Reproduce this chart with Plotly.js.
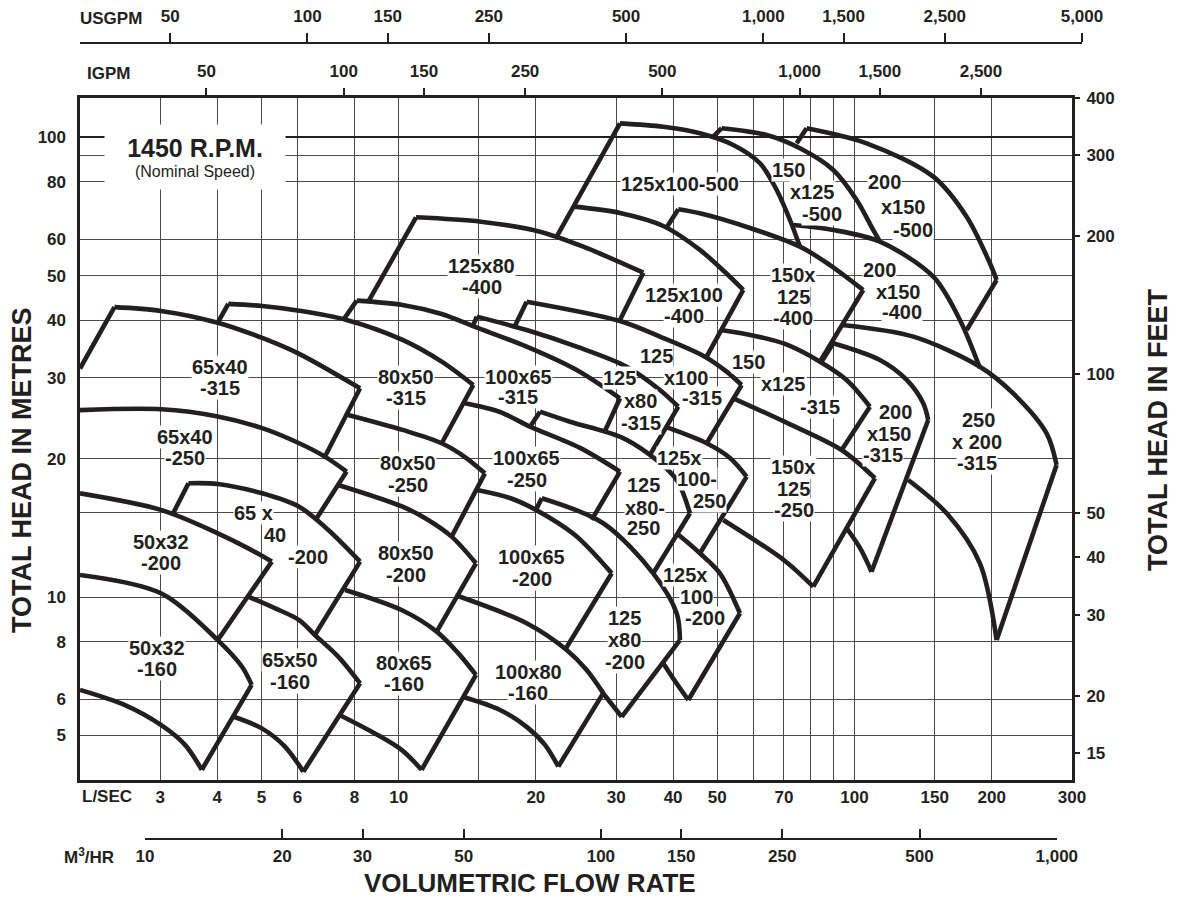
<!DOCTYPE html>
<html><head><meta charset="utf-8">
<script src="https://cdn.plot.ly/plotly-3.0.1.min.js"></script>
<style>body{margin:0;background:#fff}#chart{width:1178px;height:900px}</style>
</head><body><div id="chart"></div>
<script>
// ---------- axis data ----------
const flowRangeLs = [2, 300];          // L/sec
const headRangeM = [4, 122];           // metres
const lsTicks = [3,4,5,6,8,10,15,20,30,40,50,60,70,80,90,100,150,200,300];
const lsTickText = ['3','4','5','6','8','10','','20','30','40','50','','70','','','100','150','200','300'];
const mTicks = [5,6,8,10,15.24,20,30,40,50,60,80,91.44,100];
const mTickText = ['5','6','8','10','','20','30','40','50','60','80','','100'];
const ftTicks = [15,20,30,40,50,100,200,300,400];
const usgpmTicks = [50,100,150,250,500,1000,1500,2500,5000];
const usgpmText = ['50','100','150','250','500','1,000','1,500','2,500','5,000'];
const igpmTicks = [50,100,150,250,500,1000,1500,2500];
const igpmText = ['50','100','150','250','500','1,000','1,500','2,500'];
const m3hTicks = [10,20,30,50,100,150,250,500,1000];
const m3hText = ['10','20','30','50','100','150','250','500','1,000'];
const LS_TO_USGPM = 15.850, LS_TO_IGPM = 13.198, LS_TO_M3H = 3.6, M_TO_FT = 1/0.3048;

// ---------- pump tiles: flow (L/s), head (m) ----------
// base: lower end of left side, top: head curve, foot: lower end of right side, bottom: lower curve
const p50x32_160 = {top:[[2,11.17],[3.01,10.19],[4.01,8.06],[4.53,7.06],[4.76,6.44]], foot:[3.70,4.21], bottom:[[3.40,4.77],[3.01,5.27],[2.51,5.82],[2,6.28]]};
const p50x32_200 = {top:[[2,16.81],[3.01,15.47],[4.01,13.76],[4.68,12.76],[5.27,11.94]], foot:[4.01,8.06]};
const p65x40_250 = {top:[[2,25.5],[3.01,25.6],[4.01,24.7],[5.02,23.3],[6.05,21.6],[6.89,20.2],[7.69,18.74]], foot:[6.61,14.84]};
const p65x40_315 = {base:[2,31.4], top:[[2.38,42.7],[3.01,41.9],[4.01,39.5],[5.02,36.6],[6.05,33.8],[8.23,28.44]], foot:[6.92,20.37]};
const p65x40_200 = {base:[3.20,15.2], top:[[3.46,17.68],[4.01,17.62],[5.02,16.81],[6.05,15.72],[7.01,13.99],[8.23,11.94]], foot:[6.55,8.27]};
const p65x50_160 = {top:[[4.68,10.02],[5.36,9.45],[6.05,8.91],[6.55,8.27],[7.37,7.42],[8.23,6.49]], foot:[6.18,4.17], bottom:[[5.63,4.73],[5.01,5.18],[4.35,5.49]]};
const p80x50_315 = {base:[4.01,39.5], top:[[4.23,43.4],[5.02,42.95],[6.05,41.95],[7.69,40.05],[10.2,36.24],[12.43,32.5],[14.58,28.92]], foot:[12.43,21.6]};
const p80x50_250 = {top:[[7.75,24.89],[10.2,23.09],[12.43,21.6],[13.98,20.16],[15.46,18.58]], foot:[13.07,13.53]};
const p80x50_200 = {top:[[7.37,17.53],[10.2,15.72],[11.61,14.71],[13.07,13.53],[14.78,11.84]], foot:[12.12,8.41]};
const p80x65_160 = {top:[[7.63,10.36],[10.15,9.37],[12.12,8.41],[13.51,7.55],[14.78,6.77]], foot:[11.23,4.21], bottom:[[10.15,4.65],[8.87,5.05],[7.42,5.54]]};
const p100x65_315 = {base:[7.56,40.05], top:[[8.09,44.12],[10.2,43.17],[12.43,41.26],[14.71,38.67],[19.09,35.04],[24.58,31.17],[30.59,27.05]], foot:[28.35,22.96]};
const p100x65_250 = {top:[[13.98,26.38],[16.69,25.26],[19.42,23.47],[24.99,21.10],[30.59,18.74]], foot:[26.51,14.71]};
const p100x65_200 = {top:[[14.86,17.09],[17.55,16.42],[20.01,15.47],[24.37,13.64],[29.34,11.26]], foot:[23.17,7.67]};
const p100x80_160 = {top:[[13.49,10.05],[19.09,8.77],[23.37,7.67],[25.85,6.94],[28.11,6.18]], foot:[22.40,4.28], bottom:[[20.94,4.77],[19.09,5.22],[16.69,5.68],[13.87,6.06]]};
const p125x80_400 = {base:[8.58,43.89], top:[[10.92,66.96],[15.16,65.5],[20.42,62.31],[25.41,57.8],[34.41,50.75]], foot:[30.59,40.05]};
const p125x80_315 = {base:[14.55,38.87], top:[[14.84,40.72],[19.09,38.08],[24.58,35.04],[31.64,31.69],[37.43,28.20],[41.06,25.94]], foot:[35.59,20.37]};
const p125x100_315 = {base:[18.0,38.9], top:[[19.09,43.89],[30.59,39.84],[37.43,36.84],[46.97,33.32],[52.42,30.91],[56.54,28.92]], foot:[47.39,21.60]};
const p125x80_250 = {base:[19.42,23.47], top:[[20.42,25.30],[23.76,24.06],[30.59,22.32],[35.59,20.37],[40.73,17.97],[43.55,15.21]], foot:[36.18,11.26]};
const p125x100_250 = {top:[[38.39,23.47],[47.39,21.6],[53.32,20.06],[58.0,18.27]], foot:[45.81,12.45]};
const p125x80_200 = {base:[20.01,15.47], top:[[20.6,16.40],[28.11,14.47],[36.18,11.26],[40.73,9.22],[41.41,8.06]], foot:[30.85,5.49], bottom:[[28.0,6.2]]};
const p125x100_200 = {top:[[40.73,13.76],[45.81,12.45],[50.68,11.26],[56.07,9.22]], foot:[43.19,5.97], bottom:[[40.48,6.54],[38.07,7.18]]};
const p125x100_500 = {base:[22.22,60.77], top:[[30.59,107.2],[38.07,105.4],[45.81,102.0],[54.21,96.2],[62.03,87.77],[67.5,76.78],[72.19,66.06],[75.92,57.8]]};
const p125x100_400 = {top:[[24.25,70.63],[30.59,68.43],[38.07,64.11],[45.81,56.86],[51.97,50.91],[57.02,46.54]], foot:[47.39,33.32]};
const p150x125_500 = {base:[49.0,100.3], top:[[51.12,104.6],[64.17,101.1],[75.92,94.6],[89.82,84.88],[101.1,73.04],[109.9,62.84],[113.7,59.27]]};
const p150x125_400 = {base:[38.72,63.6], top:[[41.06,69.72],[45.81,68.32],[58.97,63.48],[75.92,57.8],[88.32,52.72],[104.5,46.54]], foot:[84.0,32.5]};
const p200x150_500 = {base:[74.67,97.0], top:[[78.52,104.6],[106.3,97.0],[148.9,82.07],[176.2,67.15],[198.2,53.19],[205.0,48.92]], foot:[176.2,38.08]};
const p200x150_400 = {top:[[73.39,64.43],[89.82,62.84],[113.7,59.27],[148.9,49.73],[170.3,40.05],[188.4,31.48]]};
const p150x125_315 = {top:[[50.93,38.08],[60.48,36.97],[70.39,35.51],[84.0,32.5],[96.1,29.65],[108.1,25.94]], foot:[93.72,20.88]};
const p150x125_250 = {top:[[54.21,27.05],[70.39,24.03],[93.72,20.88],[110.9,18.13]], foot:[81.2,10.53], bottom:[[70.39,11.98],[51.53,14.71]]};
const p200x150_315 = {base:[84.71,32.5], top:[[89.82,35.64],[113.7,32.77],[130.2,29.65],[141.5,26.38],[145.1,24.27]], foot:[109.0,11.35], bottom:[[102.8,12.79],[96.1,14.11]]};
const p250x200_315 = {top:[[93.72,39.05],[134.6,36.84],[188.4,31.69],[222.9,27.73],[263.9,22.70],[277.5,19.38]], foot:[205.0,8.06], bottom:[[188.4,11.84],[159.3,15.21],[131.2,17.97]]};

const pumps = [p50x32_160,p50x32_200,p65x40_250,p65x40_315,p65x40_200,p65x50_160,p80x50_315,p80x50_250,p80x50_200,p80x65_160,
  p100x65_315,p100x65_250,p100x65_200,p100x80_160,p125x80_400,p125x80_315,p125x100_315,p125x80_250,p125x100_250,p125x80_200,
  p125x100_200,p125x100_500,p125x100_400,p150x125_500,p150x125_400,p200x150_500,p200x150_400,p150x125_315,p150x125_250,
  p200x150_315,p250x200_315];

// ---------- tile labels: text, flow (L/s), head (m) ----------
const labelLines = [
 ['125x100-500',41.4,79.0],
 ['150',71.6,84.88],['x125',80.96,76.1],['-500',84.71,68.08],
 ['200',116.2,80.06],['x150',127.9,70.63],['-500',134.2,62.84],
 ['125x80',15.22,52.55],['-400',15.22,47.18],
 ['125x100',42.26,45.39],['-400',42.26,40.85],
 ['150x',73.39,50.17],['125',73.39,45.0],['-400',73.39,40.45],
 ['200',113.7,51.4],['x150',124.7,46.13],['-400',127.1,41.74],
 ['65x40',4.06,31.6],['-315',4.06,28.44],
 ['80x50',10.38,30.05],['-315',10.38,27.05],
 ['100x65',18.3,30.14],['-315',18.3,27.19],
 ['125',30.59,29.9],['x80',34.0,26.73],['-315',34.0,23.94],
 ['125',36.81,33.44],['x100',42.84,29.99],['-315',46.2,27.05],
 ['150',58.4,32.45],['x125',70.0,29.06],['-315',84.0,25.94],
 ['200',122.7,25.29],['x150',119.6,22.62],['-315',115.6,20.37],
 ['250',186.8,24.27],['x 200',185.2,21.7],['-315',185.2,19.54],
 ['65x40',3.40,22.32],['-250',3.40,20.03],
 ['80x50',10.5,19.54],['-250',10.5,17.53],
 ['100x65',19.09,20.03],['-250',19.09,17.97],
 ['125',34.41,17.53],['x80-',34.7,15.6],['250',34.41,14.11],
 ['125x',41.41,20.03],['100-',45.06,18.06],['250',48.19,16.17],
 ['150x',73.66,19.18],['125',73.66,17.18],['-250',73.66,15.43],
 ['50x32',3.01,13.19],['-200',3.01,11.84],
 ['65 x',4.80,15.26],['40',5.36,13.64],['-200',6.34,12.24],
 ['80x50',10.38,12.45],['-200',10.38,11.17],
 ['100x65',19.58,12.24],['-200',19.58,10.94],
 ['125',31.37,8.99],['x80',31.37,8.06],['-200',31.37,7.23],
 ['125x',42.48,11.17],['100',45.06,10.02],['-200',46.97,8.99],
 ['50x32',2.95,7.73],['-160',2.95,6.96],
 ['65x50',5.78,7.29],['-160',5.78,6.55],
 ['80x65',10.3,7.18],['-160',10.3,6.46],
 ['100x80',19.25,6.88],['-160',19.25,6.18]
];
const speedNote = ['1450 R.P.M.', '(Nominal Speed)', 3.575, 90.35];

// ---------- layout geometry ----------
const F = 'Liberation Sans, Arial, Helvetica, sans-serif';
const INK = '#231f20';
const W = 1178, H = 900;
const M = {l:80, r:88, t:44, b:62};
const plotPx = {x0:80, x1:1072, y0:97.5, y1:780};
const pw = W - M.l - M.r, ph = H - M.t - M.b;
const lg = Math.log10;
const xr = [lg(flowRangeLs[0]), lg(flowRangeLs[1])];
const yr = [lg(headRangeM[0]), lg(headRangeM[1])];
const xDom = [(plotPx.x0 - M.l)/pw, (plotPx.x1 - M.l)/pw];
const yDom = [(H - M.b - plotPx.y1)/ph, (H - M.b - plotPx.y0)/ph];
const pxPerDec = (plotPx.x1 - plotPx.x0)/(xr[1]-xr[0]);
const lsToDom = q => (plotPx.x0 - M.l + (lg(q) - xr[0])*pxPerDec)/pw;
const usMax = 5005;
const m3Lo = 9.99, m3Hi = 1001;
const px = (x, y) => ({x:(x - M.l)/pw, y:(H - M.b - y)/ph});

const tickFont = {family:F, size:17, color:INK, weight:'bold'};

// ---------- traces ----------
const traces = [];
const lineStyle = {color:INK, width:4.6};
function seg(pts, smooth){
  traces.push({type:'scatter', mode:'lines', x:pts.map(p=>p[0]), y:pts.map(p=>p[1]),
    xaxis:'x', yaxis:'y', line:Object.assign({}, lineStyle, smooth ? {shape:'spline', smoothing:0.9} : {}),
    hoverinfo:'skip', showlegend:false});
}
pumps.forEach(p => {
  const first = p.top[0], last = p.top[p.top.length-1];
  if (p.base) seg([p.base, first], false);
  seg(p.top, true);
  if (p.foot) seg([last, p.foot], false);
  if (p.bottom) seg([p.foot].concat(p.bottom), true);
});
// helper traces so the extra scales are drawn
const ghost = (xa, ya) => ({type:'scatter', mode:'lines', x:[null], y:[null], xaxis:xa, yaxis:ya, hoverinfo:'skip', showlegend:false});
traces.push(ghost('x2','y'), ghost('x','y2'), ghost('x3','y3'), ghost('x4','y4'), ghost('x','y5'));

// ---------- annotations ----------
const ann = [];
labelLines.forEach(([t,q,h]) => ann.push({x:lg(q), y:lg(h), xref:'x', yref:'y', text:t, showarrow:false,
  xanchor:'center', yanchor:'middle',
  font:{family:F, size:20, color:INK, weight:'bold'}, bgcolor:'#fff', borderpad:0}));
ann.push({x:lg(speedNote[2]), y:lg(speedNote[3]), xref:'x', yref:'y', showarrow:false, xanchor:'center', yanchor:'middle',
  text:'<b><span style="font-size:25px">'+speedNote[0]+'</span></b><br>'+speedNote[1],
  font:{family:F, size:16, color:INK}, bgcolor:'#fff', width:176, height:60, borderpad:2});
function paperText(text, x, y, opts){
  const p = px(x, y);
  ann.push(Object.assign({x:p.x, y:p.y, xref:'paper', yref:'paper', text, showarrow:false,
    xanchor:'center', yanchor:'middle',
    font:{family:F, size:17, color:INK, weight:'bold'}}, opts||{}));
}
paperText('USGPM', 78, 18, {xanchor:'left'});
paperText('IGPM', 85, 73, {xanchor:'left'});
paperText('L/SEC', 80, 796, {xanchor:'left'});
paperText('M<sup>3</sup>/HR', 62, 856, {xanchor:'left'});
paperText('VOLUMETRIC FLOW RATE', 530, 883, {font:{family:F, size:26, color:INK, weight:'bold'}});
paperText('TOTAL HEAD IN METRES', 22, 470, {textangle:-90, font:{family:F, size:27, color:INK, weight:'bold'}});
paperText('TOTAL HEAD IN FEET', 1158, 430, {textangle:-90, font:{family:F, size:27, color:INK, weight:'bold'}});

// ---------- layout ----------
const layout = {
  width:W, height:H, margin:M, paper_bgcolor:'#fff', plot_bgcolor:'rgba(0,0,0,0)',
  font:{family:F, color:INK}, showlegend:false,
  xaxis:{type:'log', range:xr, domain:xDom, anchor:'y', showline:true, linewidth:2.6, linecolor:INK, mirror:true,
    showgrid:true, gridcolor:'#4a4a4a', gridwidth:1, tickmode:'array', tickvals:lsTicks, ticktext:lsTickText,
    ticks:'', ticklabelstandoff:0, tickfont:tickFont, zeroline:false, fixedrange:true},
  yaxis:{type:'log', range:yr, domain:yDom, anchor:'x', showline:true, linewidth:2.6, linecolor:INK, mirror:true,
    showgrid:true, gridcolor:'#4a4a4a', gridwidth:1, tickmode:'array', tickvals:mTicks, ticktext:mTickText,
    ticks:'', ticklabelstandoff:8, tickfont:tickFont, zeroline:false, fixedrange:true},
  yaxis5:{type:'log', range:yr, overlaying:'y', anchor:'x', side:'left', tickmode:'array', tickvals:[100],
    showgrid:true, gridcolor:INK, gridwidth:2.2, showticklabels:false, ticks:'', showline:false, zeroline:false},
  yaxis2:{type:'log', range:[lg(headRangeM[0]*M_TO_FT), lg(headRangeM[1]*M_TO_FT)], overlaying:'y', side:'right', anchor:'x',
    tickmode:'array', tickvals:ftTicks, ticktext:ftTicks.map(String), ticks:'outside', ticklen:7, tickwidth:2, tickcolor:INK,
    ticklabelstandoff:3, showgrid:false, showline:false, zeroline:false, tickfont:tickFont},
  xaxis2:{type:'log', range:[lg(flowRangeLs[0]*LS_TO_IGPM), lg(flowRangeLs[1]*LS_TO_IGPM)], overlaying:'x', side:'top', anchor:'y',
    tickmode:'array', tickvals:igpmTicks, ticktext:igpmText, ticks:'outside', ticklen:9, tickwidth:2, tickcolor:INK,
    ticklabelstandoff:4, showgrid:false, showline:false, zeroline:false, tickfont:tickFont},
  xaxis3:{type:'log', range:[lg(flowRangeLs[0]*LS_TO_USGPM), lg(usMax)], domain:[0, lsToDom(usMax/LS_TO_USGPM)], anchor:'y3', side:'top',
    tickmode:'array', tickvals:usgpmTicks, ticktext:usgpmText, ticks:'outside', ticklen:9, tickwidth:2, tickcolor:INK,
    ticklabelstandoff:4, showgrid:false, showline:true, linewidth:2, linecolor:INK, zeroline:false, tickfont:tickFont},
  yaxis3:{domain:[0.96,1], anchor:'x3', visible:false, range:[0,1]},
  xaxis4:{type:'log', range:[lg(m3Lo), lg(m3Hi)], domain:[lsToDom(m3Lo/LS_TO_M3H), lsToDom(m3Hi/LS_TO_M3H)], anchor:'y4', side:'bottom',
    tickmode:'array', tickvals:m3hTicks, ticktext:m3hText, ticks:'inside', ticklen:9, tickwidth:2, tickcolor:INK,
    ticklabelstandoff:2, showgrid:false, showline:true, linewidth:2, linecolor:INK, zeroline:false, tickfont:tickFont},
  yaxis4:{domain:[0,0.03], anchor:'x4', visible:false, range:[0,1]},
  annotations:ann
};
Plotly.newPlot('chart', traces, layout, {staticPlot:true, displayModeBar:false});
</script></body></html>
